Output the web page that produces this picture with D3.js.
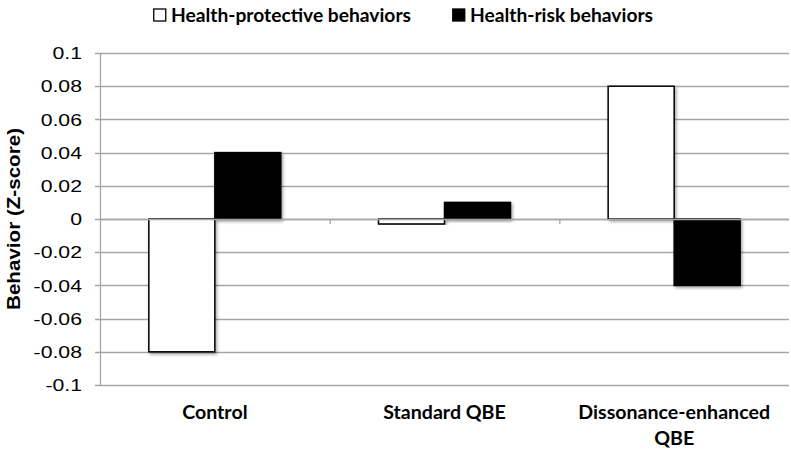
<!DOCTYPE html>
<html><head><meta charset="utf-8">
<script src="https://cdn.jsdelivr.net/npm/d3@7"></script>
<style>body{margin:0;background:#fff}</style>
</head><body>
<svg id="c" width="791" height="451"></svg>
<script>
const categories = [["Control"], ["Standard QBE"], ["Dissonance-enhanced", "QBE"]];
const seriesNames = ["Health-protective behaviors", "Health-risk behaviors"];
const protective = [-0.08, -0.003, 0.08];
const risk = [0.04, 0.01, -0.04];
const yTicks = [0.1, 0.08, 0.06, 0.04, 0.02, 0, -0.02, -0.04, -0.06, -0.08, -0.1];
const yTickLabels = ["0.1", "0.08", "0.06", "0.04", "0.02", "0", "-0.02", "-0.04", "-0.06", "-0.08", "-0.1"];

const svg = d3.select("#c");
const m = {l: 100};
const x0 = d3.scaleBand().domain(d3.range(categories.length)).range([m.l, 789]).paddingInner(0).paddingOuter(0);
const y = d3.scaleLinear().domain([-0.1, 0.1]).range([385, 53]);
const bw = 66;
const fills = ["#fff", "#000"];

const defs = svg.append("defs");
const f = defs.append("filter").attr("id", "sh").attr("x", "-20%").attr("y", "-20%").attr("width", "140%").attr("height", "140%");
f.append("feDropShadow").attr("dx", 1.5).attr("dy", 2).attr("stdDeviation", 1.5).attr("flood-color", "#000").attr("flood-opacity", 0.35);

// gridlines
svg.append("g").selectAll("line").data(yTicks).join("line")
  .attr("x1", m.l - 5).attr("x2", 789)
  .attr("y1", d => Math.round(y(d)) + 0.5).attr("y2", d => Math.round(y(d)) + 0.5)
  .attr("stroke", "#a6a6a6").attr("stroke-width", 1.3);

// y axis line
svg.append("line").attr("x1", m.l + 0.5).attr("x2", m.l + 0.5).attr("y1", y(0.1)).attr("y2", y(-0.1))
  .attr("stroke", "#a6a6a6").attr("stroke-width", 1.3);

// tick labels (horizontally stretched as in reference)
svg.append("g").selectAll("text").data(yTicks).join("text")
  .attr("transform", d => `translate(82,${y(d)}) scale(1.25,1)`)
  .attr("dy", "0.36em")
  .attr("text-anchor", "end").attr("font-family", "Liberation Sans, Arial, sans-serif")
  .attr("font-size", 17).attr("fill", "#000")
  .text((d, i) => yTickLabels[i]);

// category ticks on zero line
svg.append("g").selectAll("line").data(d3.range(1, categories.length)).join("line")
  .attr("x1", d => x0(d) + 0.5).attr("x2", d => x0(d) + 0.5)
  .attr("y1", y(0)).attr("y2", y(0) + 5)
  .attr("stroke", "#a6a6a6").attr("stroke-width", 1.3);

// bars
const series = [protective, risk];
series.forEach((vals, si) => {
  svg.append("g").selectAll("rect").data(vals).join("rect")
    .attr("x", (d, i) => x0(i) + x0.bandwidth() / 2 - bw + si * bw)
    .attr("width", bw)
    .attr("y", d => y(Math.max(0, d)))
    .attr("height", d => Math.abs(y(d) - y(0)))
    .attr("fill", fills[si])
    .attr("stroke", "#000").attr("stroke-width", 1.5)
    .attr("filter", "url(#sh)");
});

// zero axis line on top
svg.append("line").attr("x1", m.l).attr("x2", 789).attr("y1", Math.round(y(0)) + 0.5).attr("y2", Math.round(y(0)) + 0.5)
  .attr("stroke", "#a6a6a6").attr("stroke-width", 1.3);

// category labels
const cl = svg.append("g");
categories.forEach((lines, i) => {
  const t = cl.append("text").attr("text-anchor", "middle")
    .attr("font-family", "Lato, Calibri, sans-serif").attr("font-weight", "bold").attr("font-size", 19.6);
  lines.forEach((ln, j) => {
    t.append("tspan").attr("x", x0(i) + x0.bandwidth() / 2).attr("y", 419 + j * 26).text(ln);
  });
});

// y axis title
svg.append("text").attr("transform", `translate(20,${y(0)}) rotate(-90)`)
  .attr("text-anchor", "middle").attr("font-family", "Liberation Sans, Arial, sans-serif")
  .attr("font-weight", "bold").attr("font-size", 18)
  .attr("textLength", 182).attr("lengthAdjust", "spacingAndGlyphs")
  .text("Behavior (Z-score)");

// legend
const legX = [153, 452];
const legW = [240, 183];
seriesNames.forEach((n, i) => {
  svg.append("rect").attr("x", legX[i] + 0.75).attr("y", 9).attr("width", 12).attr("height", 12)
    .attr("fill", fills[i]).attr("stroke", "#000").attr("stroke-width", 1.3);
  svg.append("text").attr("x", legX[i] + 18).attr("y", 22)
    .attr("font-family", "Lato, Calibri, sans-serif").attr("font-weight", "bold").attr("font-size", 19.5)
    .attr("textLength", legW[i]).attr("lengthAdjust", "spacingAndGlyphs")
    .text(n);
});
</script>
</body></html>
